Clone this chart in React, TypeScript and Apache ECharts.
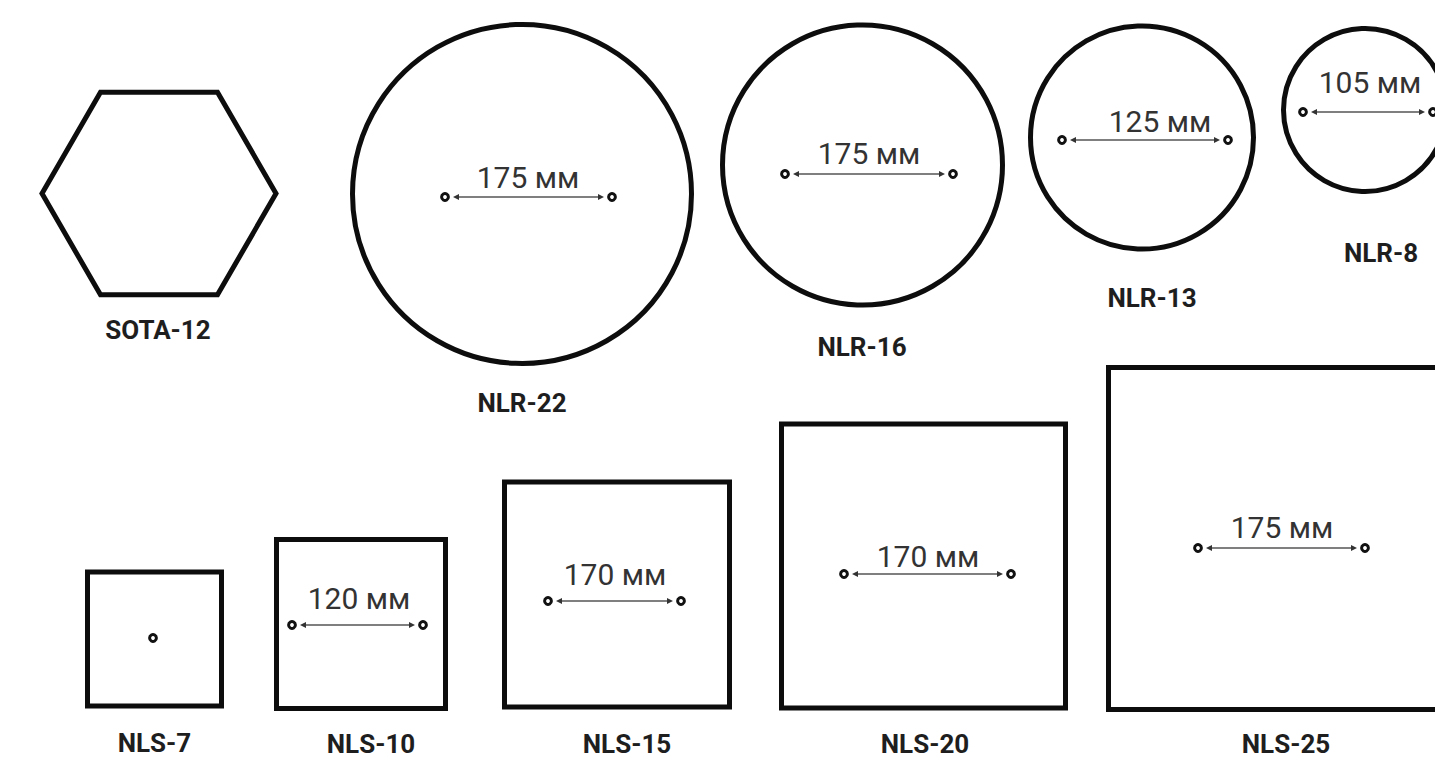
import React, { useEffect, useRef } from "react";
import * as echarts from "echarts";

// Product outlines (position and size in picture units, y downward)
const shapeNames = ["SOTA-12", "NLR-22", "NLR-16", "NLR-13", "NLR-8", "NLS-7", "NLS-10", "NLS-15", "NLS-20", "NLS-25"];
const shapeKinds = ["hexagon", "circle", "circle", "circle", "circle", "square", "square", "square", "square", "square"];
const centerX = [159, 522, 862.5, 1142, 1365, 154.5, 361, 617, 923.5, 1279.5];
const centerY = [193.5, 194, 165, 137.5, 110, 639, 624, 594.5, 566, 538.5];
const halfSize = [117, 169.5, 140, 111.5, 81.5, 67, 84.5, 112.5, 142, 171];
const labelX = [158, 522, 862, 1152, 1381, 154.5, 371, 627, 925, 1286];
const labelY = [330, 403, 347, 298, 253, 743, 744, 744, 744, 744];

// Mounting-hole spacing marks
const spanText = ["", "175 мм", "175 мм", "125 мм", "105 мм", "", "120 мм", "170 мм", "170 мм", "175 мм"];
const spanTextX = [0, 528, 869, 1160, 1370, 0, 359, 615, 928, 1282];
const spanTextY = [0, 177, 153, 121, 82, 0, 598, 574, 556, 527];
const spanLeft = [0, 445, 785, 1062, 1303, 153, 292, 548, 844, 1198];
const spanRight = [0, 612, 953, 1228, 1433, 0, 423, 681, 1011, 1365];
const spanY = [0, 197, 174, 140, 112, 638, 625, 601, 574, 548];

const W = 1435;
const H = 759;

export default function App() {
  const ref = useRef<HTMLDivElement>(null);

  useEffect(() => {
    if (!ref.current) return;
    const chart = echarts.init(ref.current, null, { renderer: "svg" });

    const data = shapeNames.map((n, i) => ({
      name: n,
      value: [centerX[i], centerY[i], halfSize[i], labelX[i], labelY[i], spanLeft[i], spanRight[i], spanY[i], spanTextX[i], spanTextY[i]],
    }));

    const renderItem = (params: any, api: any) => {
      const i = params.dataIndex;
      const kind = shapeKinds[i];
      const cx = api.value(0);
      const cy = api.value(1);
      const h = api.value(2);
      const children: any[] = [];
      const outline = { fill: "none", stroke: "#0d0d0d", lineWidth: 5 };
      if (kind === "circle") {
        const c = api.coord([cx, cy]);
        const r = api.size([h, 0])[0];
        children.push({ type: "circle", shape: { cx: c[0], cy: c[1], r }, style: outline });
      } else if (kind === "square") {
        const p0 = api.coord([cx - h, cy - h]);
        const p1 = api.coord([cx + h, cy + h]);
        children.push({
          type: "rect",
          shape: { x: Math.min(p0[0], p1[0]), y: Math.min(p0[1], p1[1]), width: Math.abs(p1[0] - p0[0]), height: Math.abs(p1[1] - p0[1]) },
          style: outline,
        });
      } else {
        const pts: number[][] = [];
        for (let k = 0; k < 6; k++) {
          const a = (Math.PI / 3) * k;
          pts.push(api.coord([cx + h * Math.cos(a), cy + h * Math.sin(a)]));
        }
        children.push({ type: "polygon", shape: { points: pts }, style: { ...outline, lineJoin: "miter" } });
      }
      // name label
      const lp = api.coord([api.value(3), api.value(4)]);
      children.push({
        type: "text",
        x: lp[0],
        y: lp[1],
        style: {
          text: shapeNames[i],
          fill: "#1e1e1e",
          font: "bold 26px Roboto",
          align: "center",
          verticalAlign: "middle",
        },
      });
      // span marks
      const sl = api.value(5);
      const sr = api.value(6);
      const sy = api.value(7);
      const dotStyle = { fill: "#fff", stroke: "#111", lineWidth: 3 };
      if (sl) {
        const a = api.coord([sl, sy]);
        children.push({ type: "circle", shape: { cx: a[0], cy: a[1], r: 3.4 }, style: dotStyle });
        if (sr) {
          const b = api.coord([sr, sy]);
          const gap = 8;
          const x1 = a[0] + gap;
          const x2 = b[0] - gap;
          children.push({ type: "circle", shape: { cx: b[0], cy: b[1], r: 3.4 }, style: dotStyle });
          children.push({
            type: "line",
            shape: { x1: x1 + 2, y1: a[1], x2: x2 - 2, y2: a[1] },
            style: { stroke: "#555", lineWidth: 1.7 },
          });
          children.push({
            type: "polygon",
            shape: { points: [[x1, a[1]], [x1 + 6, a[1] - 3], [x1 + 6, a[1] + 3]] },
            style: { fill: "#333" },
          });
          children.push({
            type: "polygon",
            shape: { points: [[x2, a[1]], [x2 - 6, a[1] - 3], [x2 - 6, a[1] + 3]] },
            style: { fill: "#333" },
          });
          const tp = api.coord([api.value(8), api.value(9)]);
          children.push({
            type: "text",
            x: tp[0],
            y: tp[1],
            style: {
              text: spanText[i],
              fill: "#333",
              font: "30px Roboto",
              align: "center",
              verticalAlign: "middle",
            },
          });
        }
      }
      return { type: "group", children };
    };

    chart.setOption({
      animation: false,
      backgroundColor: "#ffffff",
      grid: { left: 0, right: 0, top: 0, bottom: 0 },
      xAxis: { type: "value", min: 0, max: W, show: false },
      yAxis: { type: "value", min: 0, max: H, inverse: true, show: false },
      series: [
        {
          type: "custom",
          renderItem,
          data,
          clip: false,
          silent: true,
        },
      ],
    });

    return () => chart.dispose();
  }, []);

  return (
    <div
      ref={ref}
      style={{ position: "absolute", left: 0, top: 0, width: W, height: H }}
    />
  );
}
